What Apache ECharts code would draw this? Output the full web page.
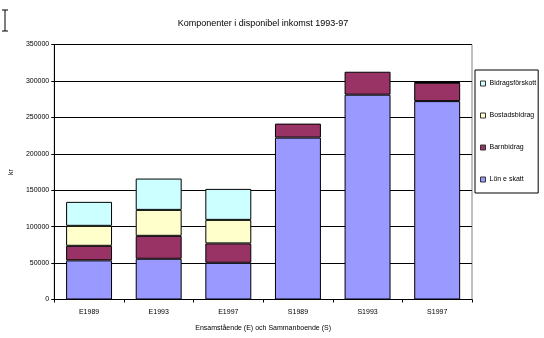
<!DOCTYPE html>
<html><head><meta charset="utf-8">
<script src="https://cdn.jsdelivr.net/npm/echarts@6/dist/echarts.min.js"></script>
<style>html,body{margin:0;padding:0;background:#fff}#c{width:544px;height:338px}</style>
</head><body><div id="c"></div>
<script>
const categories = ['E1989','E1993','E1997','S1989','S1993','S1997'];
const lon = [53700, 55900, 50400, 222200, 281100, 272300];
const barnbidrag = [20000, 31500, 26600, 19200, 31500, 25200];
const bostadsbidrag = [27400, 35600, 32300, null, null, 800];
const bidragsforskott = [32900, 43000, 42500, null, null, null];
const yTicks = [0, 50000, 100000, 150000, 200000, 250000, 300000, 350000];
const seriesNames = ['Lön e skatt','Barnbidrag','Bostadsbidrag','Bidragsförskott'];
const seriesColors = ['#9999FF','#993366','#FFFFCC','#CCFFFF'];
const seriesData = [lon, barnbidrag, bostadsbidrag, bidragsforskott];

const chart = echarts.init(document.getElementById('c'));
const font = 'Liberation Sans, Arial, sans-serif';
chart.setOption({
  animation: false,
  backgroundColor: '#fff',
  title: {text: 'Komponenter i disponibel inkomst 1993-97', left: 258, top: 14, textAlign: 'center',
    textStyle: {fontSize: 9, fontWeight: 'normal', color: '#000', fontFamily: font}},
  grid: {left: 44, right: 72, top: 44.5, bottom: 38.5, show: true, borderColor: '#808080', borderWidth: 1, backgroundColor: 'transparent'},
  legend: {
    orient: 'vertical', left: 475, top: 70, width: 66, height: 125,
    data: ['Bidragsförskott','Bostadsbidrag','Barnbidrag','Lön e skatt'],
    itemWidth: 5, itemHeight: 5, itemGap: 25,
    padding: [10, 2, 10, 5],
    borderColor: '#000', borderWidth: 1,
    itemStyle: {borderWidth: 1, borderColor: '#333'},
    textStyle: {fontSize: 7, color: '#000', fontFamily: font, padding: [0,0,0,-1]},
    icon: 'rect'
  },
  xAxis: {
    type: 'category', data: categories,
    name: 'Ensamstående (E) och Sammanboende (S)', nameLocation: 'middle', nameGap: 25,
    nameTextStyle: {fontSize: 7, color: '#000', fontFamily: font},
    axisLine: {lineStyle: {color: '#000', width: 1}},
    axisTick: {show: true, length: 3, inside: false, lineStyle: {color: '#000'}},
    axisLabel: {fontSize: 7, color: '#000', fontFamily: font, margin: 9}
  },
  yAxis: {
    type: 'value', min: yTicks[0], max: yTicks[yTicks.length-1], interval: yTicks[1]-yTicks[0],
    name: 'kr', nameLocation: 'middle', nameGap: 34, nameRotate: 90,
    nameTextStyle: {fontSize: 7, color: '#000', fontFamily: font},
    axisLine: {show: true, lineStyle: {color: '#000', width: 1}},
    axisTick: {show: true, length: 3, lineStyle: {color: '#000'}},
    axisLabel: {fontSize: 7, color: '#000', fontFamily: font, margin: 5, formatter: v => String(v)},
    splitLine: {show: true, lineStyle: {color: '#000', width: 1}}
  },
  series: seriesNames.map((n, i) => ({
    name: n, type: 'bar', stack: 'a', data: seriesData[i],
    barWidth: '66%',
    itemStyle: {color: seriesColors[i], borderColor: '#000', borderWidth: 1}
  })),
  graphic: [
    {type: 'line', shape: {x1: 5, y1: 10, x2: 5, y2: 31}, style: {stroke: '#000', lineWidth: 1}},
    {type: 'line', shape: {x1: 2, y1: 10, x2: 8, y2: 10}, style: {stroke: '#000', lineWidth: 1}},
    {type: 'line', shape: {x1: 2, y1: 31, x2: 8, y2: 31}, style: {stroke: '#000', lineWidth: 1}}
  ]
});
</script></body></html>
